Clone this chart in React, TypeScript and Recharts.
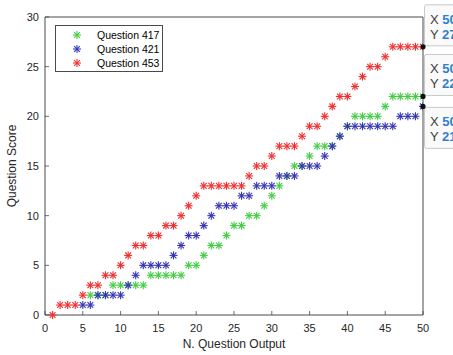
import React from "react";
import { ScatterChart, Scatter, XAxis, YAxis, ReferenceDot } from "recharts";

// question output index (x)
const OUTPUT_INDEX = [
  1, 2, 3, 4, 5, 6, 7, 8, 9, 10,
  11, 12, 13, 14, 15, 16, 17, 18, 19, 20,
  21, 22, 23, 24, 25, 26, 27, 28, 29, 30,
  31, 32, 33, 34, 35, 36, 37, 38, 39, 40,
  41, 42, 43, 44, 45, 46, 47, 48, 49, 50,
];

// scores per question (null = hidden / unreadable)
const Q417 = [
  null, null, null, null, null, 2, 2, 2, 3, 3,
  3, 3, 3, 4, 4, 4, 4, 4, 5, 5,
  6, 7, 7, 8, 9, 9, 10, 10, 11, 12,
  13, 14, 15, 15, 16, 17, 17, 17, 18, 19,
  20, 20, 20, 20, 21, 22, 22, 22, 22, 22,
];
const Q421 = [
  null, null, null, null, 1, 1, 2, 2, 2, 2,
  3, 4, 5, 5, 5, 5, 6, 7, 8, 8,
  9, 10, 11, 11, 11, 12, 12, 13, 13, 13,
  14, 14, 14, 15, 15, 15, 16, 17, 18, 19,
  19, 19, 19, 19, 19, 19, 20, 20, 20, 21,
];
const Q453 = [
  0, 1, 1, 1, 2, 3, 3, 4, 4, 5,
  6, 7, 7, 8, 8, 9, 9, 10, 11, 12,
  13, 13, 13, 13, 13, 13, 14, 15, 15, 16,
  17, 17, 17, 18, 19, 19, 20, 21, 22, 22,
  23, 24, 25, 25, 26, 27, 27, 27, 27, 27,
];

const SERIES_NAMES = ["Question 417", "Question 421", "Question 453"];
const SERIES_COLORS = ["#45cc45", "#3535b5", "#ee2f2f"];
const X_TICKS = [0, 5, 10, 15, 20, 25, 30, 35, 40, 45, 50];
const Y_TICKS = [0, 5, 10, 15, 20, 25, 30];

const FONT = "'Liberation Sans', Arial, Helvetica, sans-serif";
const AXIS_COLOR = "#262626";
const LINE_COLOR = "#4a4a4a";
const TICK_LEN = 4;

const toPoints = (vals: (number | null)[]) =>
  OUTPUT_INDEX.map((x, i) => ({ x, y: vals[i] })).filter((p) => p.y !== null);

const seriesData = [Q417, Q421, Q453].map(toPoints);

const Asterisk = ({ cx, cy, color }: { cx: number; cy: number; color: string }) => {
  const r = 4;
  const d = 2.9;
  return (
    <g stroke={color} strokeWidth={1.1}>
      <line x1={cx - r} y1={cy} x2={cx + r} y2={cy} />
      <line x1={cx} y1={cy - r} x2={cx} y2={cy + r} />
      <line x1={cx - d} y1={cy - d} x2={cx + d} y2={cy + d} />
      <line x1={cx - d} y1={cy + d} x2={cx + d} y2={cy - d} />
    </g>
  );
};

const BottomTick = ({ x, y, payload }: any) => (
  <g>
    <line x1={x} x2={x} y1={y} y2={y - TICK_LEN} stroke={LINE_COLOR} strokeWidth={0.8} />
    <text x={x} y={y + 17} textAnchor="middle" fontSize={11} fill={AXIS_COLOR} fontFamily={FONT}>
      {payload.value}
    </text>
  </g>
);

const TopTick = ({ x, y }: any) => (
  <line x1={x} x2={x} y1={y} y2={y + TICK_LEN} stroke={LINE_COLOR} strokeWidth={0.8} />
);

const LeftTick = ({ x, y, payload }: any) => (
  <g>
    <line x1={x} x2={x + TICK_LEN} y1={y} y2={y} stroke={LINE_COLOR} strokeWidth={0.8} />
    <text x={x - 6} y={y + 4} textAnchor="end" fontSize={11} fill={AXIS_COLOR} fontFamily={FONT}>
      {payload.value}
    </text>
  </g>
);

const RightTick = ({ x, y }: any) => (
  <line x1={x} x2={x - TICK_LEN} y1={y} y2={y} stroke={LINE_COLOR} strokeWidth={0.8} />
);

// data tip box, drawn above or below the point
const DataTip = ({ cx, cy, xv, yv, below }: any) => {
  const top = below ? cy + 1 : cy - 42;
  return (
    <g fontFamily={FONT} fontSize={13}>
      <rect x={cx + 1.5} y={top} width={60} height={41} rx={2} fill="#fafafa" stroke="#c9c9c9" />
      <text x={cx + 7} y={top + 19} fill="#404040">
        X <tspan fill="#2f7fcf" fontWeight="bold">{xv}</tspan>
      </text>
      <text x={cx + 7} y={top + 34} fill="#404040">
        Y <tspan fill="#2f7fcf" fontWeight="bold">{yv}</tspan>
      </text>
      <circle cx={cx} cy={cy} r={2.6} fill="#111" />
    </g>
  );
};

const TIPS = [
  { s: 2, below: false },
  { s: 0, below: false },
  { s: 1, below: true },
];

export default function App() {
  const lastX = OUTPUT_INDEX[OUTPUT_INDEX.length - 1];
  const series = [Q417, Q421, Q453];

  return (
    <div style={{ position: "absolute", left: 0, top: 0, width: 453, height: 355, background: "#fff" }}>
      <ScatterChart width={453} height={355} margin={{ top: 0, right: 0, bottom: 0, left: 0 }}>
        <XAxis
          xAxisId="b"
          type="number"
          dataKey="x"
          domain={[0, 50]}
          ticks={X_TICKS}
          height={40}
          tickSize={0}
          tickMargin={0}
          tickLine={false}
          tick={<BottomTick />}
          stroke={LINE_COLOR}
          allowDataOverflow
        />
        <XAxis
          xAxisId="t"
          orientation="top"
          type="number"
          dataKey="x"
          domain={[0, 50]}
          ticks={X_TICKS}
          height={17}
          tickSize={0}
          tickMargin={0}
          tickLine={false}
          tick={<TopTick />}
          stroke={LINE_COLOR}
        />
        <YAxis
          yAxisId="l"
          type="number"
          dataKey="y"
          domain={[0, 30]}
          ticks={Y_TICKS}
          width={45}
          tickSize={0}
          tickMargin={0}
          tickLine={false}
          tick={<LeftTick />}
          stroke={LINE_COLOR}
        />
        <YAxis
          yAxisId="r"
          orientation="right"
          type="number"
          dataKey="y"
          domain={[0, 30]}
          ticks={Y_TICKS}
          width={30}
          tickSize={0}
          tickMargin={0}
          tickLine={false}
          tick={<RightTick />}
          stroke={LINE_COLOR}
        />
        {seriesData.map((data, i) => (
          <Scatter
            key={SERIES_NAMES[i]}
            name={SERIES_NAMES[i]}
            data={data}
            xAxisId="b"
            yAxisId="l"
            isAnimationActive={false}
            shape={(p: any) => <Asterisk cx={p.cx} cy={p.cy} color={SERIES_COLORS[i]} />}
          />
        ))}
        {TIPS.map((t) => {
          const yv = series[t.s][series[t.s].length - 1];
          return (
            <ReferenceDot
              key={t.s}
              x={lastX}
              y={yv as number}
              xAxisId="b"
              yAxisId="l"
              r={3}
              ifOverflow="visible"
              shape={(p: any) => <DataTip cx={p.cx} cy={p.cy} xv={lastX} yv={yv} below={t.below} />}
            />
          );
        })}
        <text x={234} y={348} textAnchor="middle" fontSize={12} fill={AXIS_COLOR} fontFamily={FONT}>
          N. Question Output
        </text>
        <text
          x={16}
          y={166}
          textAnchor="middle"
          fontSize={12}
          fill={AXIS_COLOR}
          fontFamily={FONT}
          transform="rotate(-90 16 166)"
        >
          Question Score
        </text>
      </ScatterChart>

      {/* legend box */}
      <div
        style={{
          position: "absolute",
          left: 55,
          top: 25,
          width: 106,
          height: 45,
          border: `1px solid ${LINE_COLOR}`,
          background: "#fff",
          fontFamily: FONT,
          fontSize: 10.5,
          color: "#000",
        }}
      >
        {SERIES_NAMES.map((name, i) => (
          <div key={name} style={{ position: "absolute", left: 0, top: 2 + i * 14, height: 14, width: 106 }}>
            <svg width={12} height={12} style={{ position: "absolute", left: 15, top: 1 }}>
              <Asterisk cx={6} cy={6} color={SERIES_COLORS[i]} />
            </svg>
            <span style={{ position: "absolute", left: 41, top: 0, lineHeight: "14px" }}>{name}</span>
          </div>
        ))}
      </div>
    </div>
  );
}
